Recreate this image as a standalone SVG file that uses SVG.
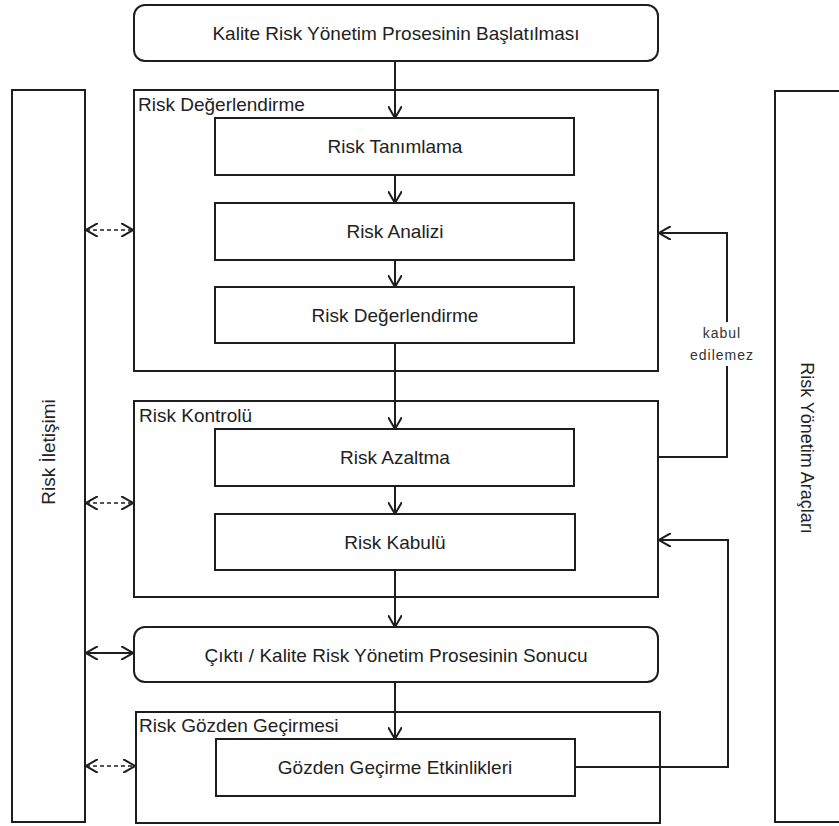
<svg xmlns="http://www.w3.org/2000/svg" width="839" height="826" viewBox="0 0 839 826">
<defs>
<style>
.box{fill:#fff;stroke:#1e1e1e;stroke-width:2}
.grp{fill:none;stroke:#1e1e1e;stroke-width:2}
.t{font-family:"Liberation Sans",Arial,sans-serif;font-size:19px;fill:#222;dominant-baseline:central}
.c{text-anchor:middle}
.lbl{font-family:"Liberation Sans",Arial,sans-serif;font-size:14px;fill:#333;text-anchor:middle;letter-spacing:1px;dominant-baseline:central}
.ln{fill:none;stroke:#1e1e1e;stroke-width:2}
.dash{fill:none;stroke:#555;stroke-width:2;stroke-dasharray:4 3}
</style>
<marker id="ah" viewBox="0 0 12 14" markerWidth="12" markerHeight="14" refX="12" refY="7" orient="auto-start-reverse" markerUnits="userSpaceOnUse">
<path d="M0,0 L12,7 L0,14" fill="none" stroke="#1e1e1e" stroke-width="2"/>
</marker>
</defs>
<rect width="839" height="826" fill="#fff"/>

<g id="risk-iletisimi">
<rect class="box" x="12" y="90" width="73" height="732"/>
<text class="t c" transform="translate(48,452) rotate(-90)">Risk İletişimi</text>
</g>
<g id="risk-yonetim-araclari">
<rect class="box" x="775" y="91" width="80" height="731"/>
<text class="t c" style="font-size:18px" transform="translate(807,448) rotate(90)">Risk Yönetim Araçları</text>
</g>

<g id="baslatma">
<rect class="box" x="134" y="5" width="524" height="56" rx="11"/>
<text class="t c" x="396" y="33">Kalite Risk Yönetim Prosesinin Başlatılması</text>
</g>

<g id="risk-degerlendirme-grup">
<rect class="grp" x="134" y="90" width="524" height="281"/>
<text class="t" x="138" y="104">Risk Değerlendirme</text>
</g>
<g id="risk-tanimlama">
<rect class="box" x="215" y="118" width="359" height="57"/>
<text class="t c" x="395" y="146">Risk Tanımlama</text>
</g>
<g id="risk-analizi">
<rect class="box" x="215" y="203" width="359" height="57"/>
<text class="t c" x="395" y="231">Risk Analizi</text>
</g>
<g id="risk-degerlendirme">
<rect class="box" x="215" y="287" width="359" height="56"/>
<text class="t c" x="395" y="315">Risk Değerlendirme</text>
</g>

<g id="risk-kontrolu-grup">
<rect class="grp" x="134" y="401" width="524" height="196"/>
<text class="t" x="139" y="415">Risk Kontrolü</text>
</g>
<g id="risk-azaltma">
<rect class="box" x="215" y="429" width="359" height="57"/>
<text class="t c" x="395" y="457">Risk Azaltma</text>
</g>
<g id="risk-kabulu">
<rect class="box" x="215" y="514" width="360" height="56"/>
<text class="t c" x="395" y="542">Risk Kabulü</text>
</g>

<g id="cikti">
<rect class="box" x="134" y="627" width="524" height="55" rx="11"/>
<text class="t c" x="396" y="655">Çıktı / Kalite Risk Yönetim Prosesinin Sonucu</text>
</g>

<g id="risk-gozden-gecirmesi-grup">
<rect class="grp" x="136" y="712" width="524" height="111"/>
<text class="t" x="139" y="725">Risk Gözden Geçirmesi</text>
</g>
<g id="gozden-gecirme-etkinlikleri">
<rect class="box" x="216" y="739" width="359" height="57"/>
<text class="t c" x="395" y="767">Gözden Geçirme Etkinlikleri</text>
</g>

<g id="connectors">
<path class="ln" d="M395,61 V118" marker-end="url(#ah)"/>
<path class="ln" d="M395,175 V203" marker-end="url(#ah)"/>
<path class="ln" d="M395,260 V287" marker-end="url(#ah)"/>
<path class="ln" d="M395,343 V429" marker-end="url(#ah)"/>
<path class="ln" d="M395,486 V514" marker-end="url(#ah)"/>
<path class="ln" d="M395,570 V627" marker-end="url(#ah)"/>
<path class="ln" d="M395,682 V739" marker-end="url(#ah)"/>

<path class="dash" d="M86,230 H133" marker-start="url(#ah)" marker-end="url(#ah)"/>
<path class="dash" d="M86,503 H133" marker-start="url(#ah)" marker-end="url(#ah)"/>
<path class="ln" d="M86,653 H133" marker-start="url(#ah)" marker-end="url(#ah)"/>
<path class="dash" d="M86,766 H135" marker-start="url(#ah)" marker-end="url(#ah)"/>

<path class="ln" d="M658,457 H727 V366 M727,322 V233 H659" marker-end="url(#ah)"/>
<text class="lbl" x="722" y="333">kabul</text>
<text class="lbl" x="722" y="355">edilemez</text>

<path class="ln" d="M575,767 H728 V540 H659" marker-end="url(#ah)"/>
</g>
</svg>
